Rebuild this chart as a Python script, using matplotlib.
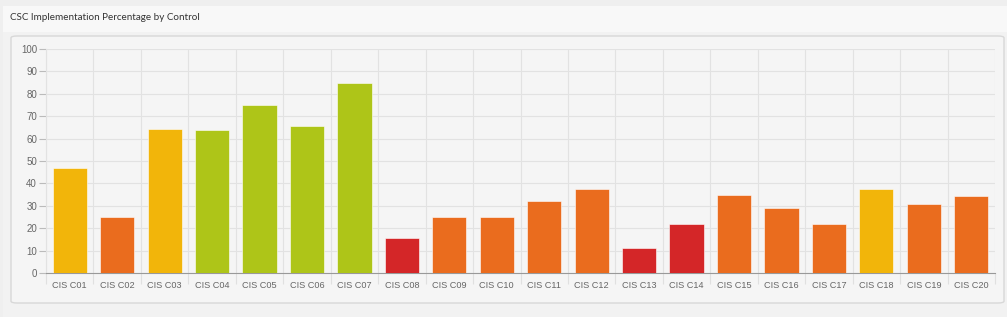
import numpy as np
import matplotlib.pyplot as plt
from matplotlib.patches import FancyBboxPatch, Rectangle

controls = ["CIS C%02d" % i for i in range(1, 21)]
percent = [47, 25, 64.2, 63.7, 75, 65.5, 85, 15.6, 25, 25,
           32, 37.5, 11, 22, 35, 29, 22, 37.5, 31, 34.5]
colors = ["#F2B50A", "#EA6C1E", "#F2B50A", "#AEC518", "#AEC518", "#AEC518", "#AEC518",
          "#D42628", "#EA6C1E", "#EA6C1E", "#EA6C1E", "#EA6C1E", "#D42628", "#D42628",
          "#EA6C1E", "#EA6C1E", "#EA6C1E", "#F2B50A", "#EA6C1E", "#EA6C1E"]
y_ticks = list(range(0, 101, 10))

W, H = 1007, 317
fig = plt.figure(figsize=(W / 100, H / 100), dpi=100, facecolor="#EFEFEF")

# header strip and card
fig.patches.append(Rectangle((3 / W, 1 - 6 / H), 1, -26 / H, transform=fig.transFigure,
                             facecolor="#F8F8F8", edgecolor="none", zorder=0))
fig.patches.append(Rectangle((3 / W, 0), 1, 1 - 32 / H, transform=fig.transFigure,
                             facecolor="#F2F2F2", edgecolor="none", zorder=0))
fig.patches.append(FancyBboxPatch((11 / W, 14 / H), 993 / W, (H - 50) / H,
                                  boxstyle="round,pad=0,rounding_size=0.006",
                                  transform=fig.transFigure, facecolor="#F5F5F5",
                                  edgecolor="#D8D8D8", linewidth=1, zorder=0))
fig.text(10 / W, 1 - 18 / H, "CSC Implementation Percentage by Control",
         fontsize=7.1, family="Lato", color="#333333", va="center", ha="left")

ax = fig.add_axes([46 / W, 1 - 273 / H, 949 / W, 224 / H])
ax.set_zorder(5)
ax.set_facecolor("none")
x = np.arange(len(controls))
ax.bar(x, percent, width=0.72, color=colors, edgecolor="#FFFFFF", linewidth=0.4, zorder=3)
ax.set_xlim(-0.5, len(controls) - 0.5)
ax.set_ylim(0, 100)
ax.set_yticks(y_ticks)
ax.set_xticks(x)
ax.set_xticklabels(controls)
ax.set_xticks(np.arange(-0.5, len(controls)), minor=True)
ax.tick_params(axis="x", which="major", length=0, labelsize=6.6, labelcolor="#666666", pad=6)
ax.tick_params(axis="x", which="minor", length=8, color="#E0E0E0", width=0.8)
ax.tick_params(axis="y", length=5, color="#BBBBBB", labelsize=7, labelcolor="#666666", pad=1.5)
for lab in ax.get_xticklabels() + ax.get_yticklabels():
    lab.set_family("Liberation Sans")
ax.grid(True, axis="y", color="#E2E2E2", linewidth=0.8, zorder=0)
ax.grid(True, axis="x", which="minor", color="#E2E2E2", linewidth=0.8, zorder=0)
for side in ["top", "right"]:
    ax.spines[side].set_visible(False)
ax.spines["left"].set_color("#E2E2E2")
ax.spines["bottom"].set_color("#999999")
ax.spines["bottom"].set_linewidth(0.8)

fig.savefig("out.png", dpi=100, facecolor=fig.get_facecolor())
